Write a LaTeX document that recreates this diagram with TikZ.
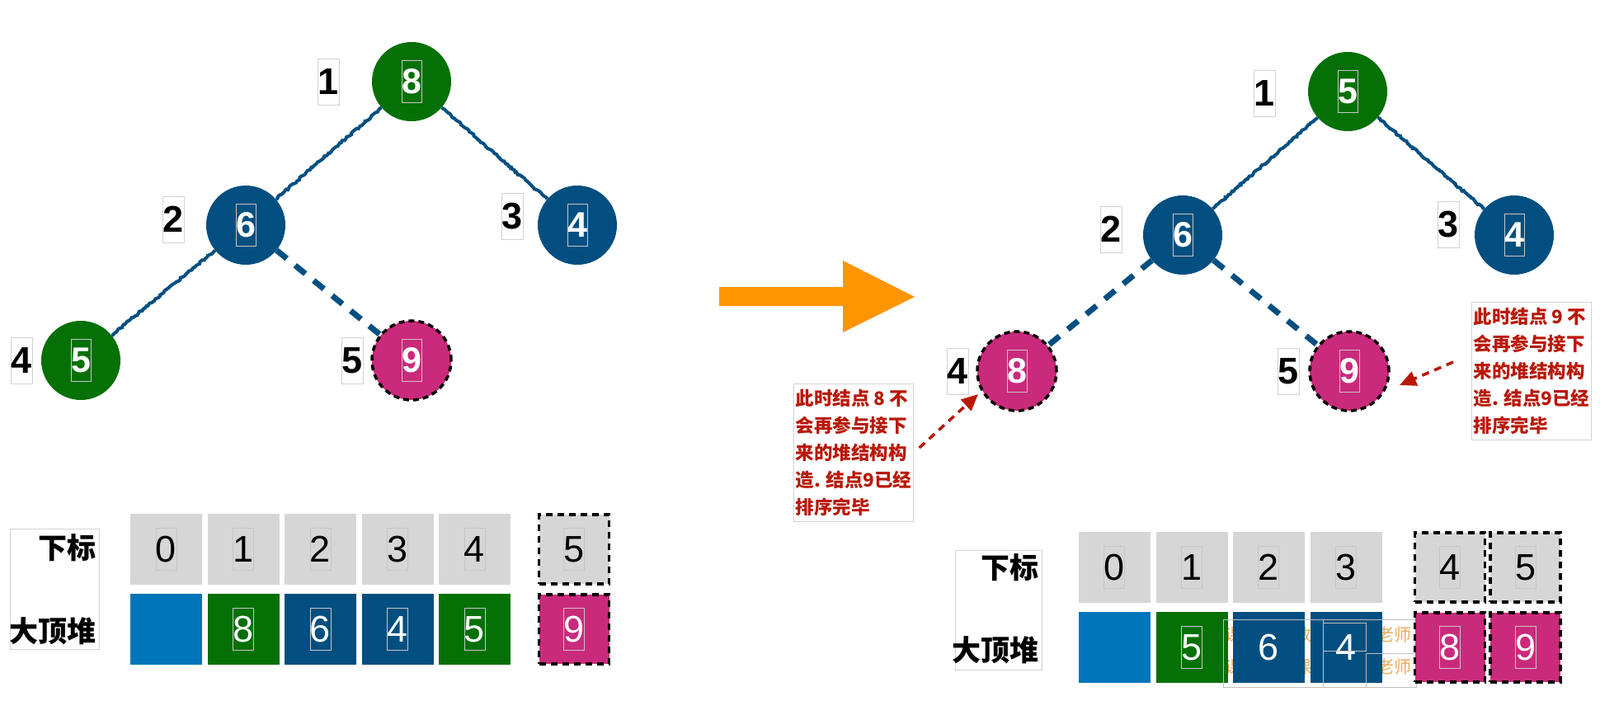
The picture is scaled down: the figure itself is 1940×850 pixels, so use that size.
\documentclass[tikz,border=0pt]{standalone}
\usepackage{fontspec}
\setmainfont{Liberation Sans}
\newfontfamily\cjk{Noto Sans CJK SC}
\usepackage{tikz}
\usetikzlibrary{arrows.meta,decorations.pathmorphing}

\definecolor{heapgreen}{RGB}{5,112,5}
\definecolor{heapblue}{RGB}{0,79,128}
\definecolor{heapmag}{RGB}{202,42,123}
\definecolor{cellblue}{RGB}{0,117,185}
\definecolor{cellgray}{RGB}{214,214,214}
\definecolor{arroworange}{RGB}{255,149,0}
\definecolor{notered}{RGB}{185,24,8}
\definecolor{marktan}{RGB}{232,172,90}

\tikzset{
  heap/.style={circle, minimum size=96pt, inner sep=0pt},
  heapdone/.style={heap, fill=heapmag, draw=black, line width=3.5pt, dash pattern=on 7pt off 5pt},
  valbox/.style={draw=gray!45, line width=0.8pt, minimum width=24pt, minimum height=51pt, inner sep=0pt, text=white, font=\fontsize{43}{43}\selectfont\bfseries},
  idxbox/.style={draw=gray!35, fill=white, line width=0.8pt, minimum width=26pt, minimum height=56pt, inner sep=0pt, font=\fontsize{45}{45}\selectfont\bfseries},
  wiggly/.style={heapblue, line width=4pt, decorate, decoration={random steps, segment length=2.5pt, amplitude=1.1pt}},
  brokenedge/.style={heapblue, line width=7pt, dash pattern=on 16pt off 13pt},
  cell/.style={minimum width=87pt, minimum height=86pt, inner sep=0pt},
  cutcell/.style={minimum width=85pt, minimum height=84pt, inner sep=0pt, draw=black, line width=3.5pt, dash pattern=on 8pt off 6pt},
  cellnum/.style={draw=gray!45, line width=0.8pt, minimum width=24pt, minimum height=51pt, inner sep=0pt, font=\fontsize{45}{45}\selectfont},
  plainnum/.style={inner sep=0pt, text=white, font=\fontsize{45}{45}\selectfont},
  keybox/.style={draw=gray!35, line width=1pt, inner sep=0pt},
  keytext/.style={inner sep=0pt, anchor=east, font=\cjk\bfseries\fontsize{35}{35}\selectfont},
  note/.style={draw=gray!35, line width=1pt, anchor=north west, inner xsep=2pt, inner ysep=4pt, minimum width=142pt, minimum height=167pt, align=left, text=notered, font=\cjk\bfseries\fontsize{22.5}{33}\selectfont},
  notearrow/.style={notered, line width=3.5pt, dash pattern=on 9pt off 7pt, -{Triangle[length=20pt,width=18pt]}},
  wmark/.style={inner sep=0pt, text=marktan, font=\cjk\fontsize{21}{21}\selectfont},
}

\begin{document}
\begin{tikzpicture}[x=1pt,y=-1pt]

\useasboundingbox (0,0) rectangle (1940,850);
\fill[white] (0,0) rectangle (1940,850);

% Left tree
\node[heap, fill=heapgreen] (L1) at (499,99) {};
\node[heap, fill=heapblue] (L2) at (298,273) {};
\node[heap, fill=heapblue] (L3) at (700,273) {};
\node[heap, fill=heapgreen] (L4) at (98,437) {};
\node[heapdone] (L5) at (499,437) {};
\node[valbox] at (L1) {8};
\node[valbox] at (L2) {6};
\node[valbox] at (L3) {4};
\node[valbox] at (L4) {5};
\node[valbox] at (L5) {9};

\node[idxbox] (L1i) at (398,99) {1};
\node[idxbox] (L2i) at (210,266) {2};
\node[idxbox] (L3i) at (621,262) {3};
\node[idxbox] (L4i) at (26,437) {4};
\node[idxbox] (L5i) at (427,437) {5};

\draw[wiggly] (L1) -- (L2);
\draw[wiggly] (L1) -- (L3);
\draw[wiggly] (L2) -- (L4);
\draw[brokenedge] (L2) -- (L5);

% Big arrow
\fill[arroworange] (872,348) -- (1022,348) -- (1022,316) -- (1109,360)
  -- (1022,403) -- (1022,371) -- (872,371) -- cycle;

% Right tree
\node[heap, fill=heapgreen] (R1) at (1634,111) {};
\node[heap, fill=heapblue] (R2) at (1434,285) {};
\node[heap, fill=heapblue] (R3) at (1836,285) {};
\node[heapdone] (R4) at (1233,450) {};
\node[heapdone] (R5) at (1636,450) {};
\node[valbox] at (R1) {5};
\node[valbox] at (R2) {6};
\node[valbox] at (R3) {4};
\node[valbox] at (R4) {8};
\node[valbox] at (R5) {9};

\node[idxbox] (R1i) at (1533,113) {1};
\node[idxbox] (R2i) at (1347,278) {2};
\node[idxbox] (R3i) at (1756,272) {3};
\node[idxbox] (R4i) at (1161,450) {4};
\node[idxbox] (R5i) at (1562,450) {5};

\draw[wiggly] (R1) -- (R2);
\draw[wiggly] (R1) -- (R3);
\draw[brokenedge] (R2) -- (R4);
\draw[brokenedge] (R2) -- (R5);

% Notes
\node[note] (note8) at (962,465) {此时结点 8 不\\会再参与接下\\来的堆结构构\\造. 结点9已经\\排序完毕};
\node[note] (note9) at (1784,366) {此时结点 9 不\\会再参与接下\\来的堆结构构\\造. 结点9已经\\排序完毕};
\coordinate (tip8) at (1186,478);
\coordinate (tail9) at (1762,439);
\coordinate (tip9) at (1697,467);
\draw[notearrow, shorten <=9pt] (note8.east) -- (tip8);
\draw[notearrow] (tail9) -- (tip9);

% Left array
\node[keybox, minimum width=108pt, minimum height=146pt] (LK) at (66,714) {};
\node[keytext] at (117,664) {下标};
\node[keytext] at (117,765) {大顶堆};

\foreach \i/\x in {0/201.5,1/295,2/388.5,3/482,4/575.5}{
  \node[cell, fill=cellgray] (LI\i) at (\x,666) {};
  \node[cellnum] at (LI\i) {\i};
}
\node[cell, fill=cellblue] (LV0) at (201.5,763) {};
\foreach \i/\x/\c/\v in {1/295/heapgreen/8,2/388.5/heapblue/6,3/482/heapblue/4,4/575.5/heapgreen/5}{
  \node[cell, fill=\c] (LV\i) at (\x,763) {};
  \node[cellnum, text=white] at (LV\i) {\v};
}
\node[cutcell, fill=cellgray] (LI5) at (696,666) {};
\node[cellnum] at (LI5) {5};
\node[cutcell, fill=heapmag] (LV5) at (696,763) {};
\node[cellnum, text=white] at (LV5) {9};

% Right array
\node[keybox, minimum width=105pt, minimum height=145pt] (RK) at (1210.5,740) {};
\node[keytext] at (1260,688) {下标};
\node[keytext] at (1260,788) {大顶堆};

\node[wmark] at (1496,770) {课};
\node[wmark] at (1496,809) {课};
\node[wmark] at (1580,770) {数};
\node[wmark] at (1580,809) {课};
\node[wmark] at (1690,770) {老师};
\node[wmark] at (1690,809) {老师};

\foreach \i/\x in {0/1351,1/1445,2/1538,3/1632}{
  \node[cell, fill=cellgray] (RI\i) at (\x,688) {};
  \node[cellnum] at (RI\i) {\i};
}
\node[cell, fill=cellblue] (RV0) at (1351,785) {};
\node[cell, fill=heapgreen] (RV1) at (1445,785) {};
\node[cellnum, text=white] at (RV1) {5};
\node[cell, fill=heapblue] (RV2) at (1538,785) {};
\node[plainnum] at (RV2) {6};
\node[cell, fill=heapblue] (RV3) at (1632,785) {};
\node[plainnum] at (RV3) {4};

\draw[gray!50, line width=1pt] (1483,751) rectangle (1604,833);
\draw[gray!50, line width=1pt] (1604,751) rectangle (1717,833);
\draw[gray!50, line width=1pt] (1604,755) rectangle (1656,789);
\draw[gray!50, line width=1pt] (1656,792) rectangle (1717,833);

\node[cutcell, fill=cellgray] (RI4) at (1758,688) {};
\node[cellnum] at (RI4) {4};
\node[cutcell, fill=cellgray] (RI5) at (1849.5,688) {};
\node[cellnum] at (RI5) {5};
\node[cutcell, fill=heapmag] (RV4) at (1758,785) {};
\node[cellnum, text=white] at (RV4) {8};
\node[cutcell, fill=heapmag] (RV5) at (1849.5,785) {};
\node[cellnum, text=white] at (RV5) {9};

\end{tikzpicture}
\end{document}
